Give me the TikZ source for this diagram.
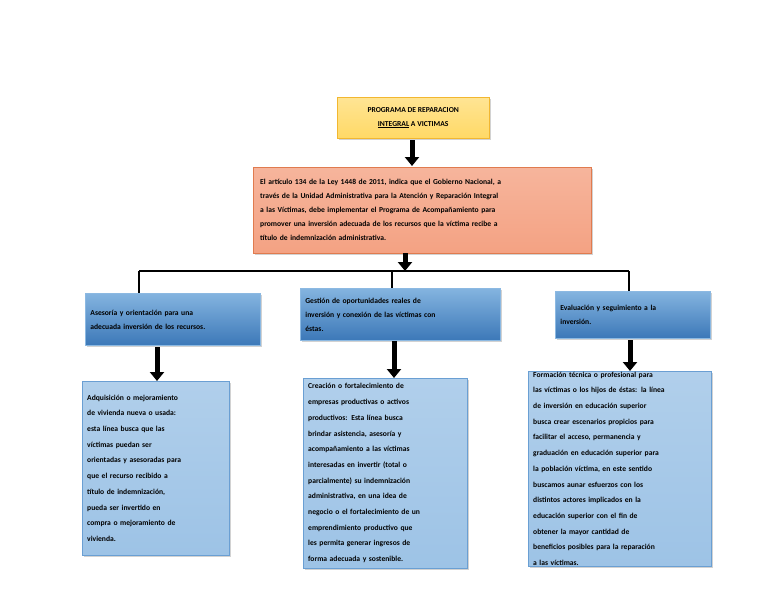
\documentclass[tikz,border=0pt]{standalone}
\usepackage{fontspec}
\setmainfont{Carlito}
\usetikzlibrary{arrows.meta,shadows}
\definecolor{yfill}{HTML}{FFD966}
\definecolor{yedge}{HTML}{F2B730}
\definecolor{ofill}{HTML}{F4A283}
\definecolor{oedge}{HTML}{E07B4F}
\definecolor{bfill}{HTML}{5B9BD5}
\definecolor{bdark}{HTML}{3C78B8}
\definecolor{lfill}{HTML}{9DC3E6}
\definecolor{ledge}{HTML}{6A9FD3}
\begin{document}
\begin{tikzpicture}[x=1pt,y=-1pt,
  box/.style={draw,anchor=north west,inner sep=0pt,align=left,font=\bfseries\fontsize{7.6}{14}\selectfont,drop shadow={opacity=0.35,shadow xshift=2pt,shadow yshift=-2pt}},
  ttl/.style={box,top color=yfill!70!white,bottom color=yfill,draw=yedge,align=center},
  org/.style={box,top color=ofill!80!white,bottom color=ofill,draw=oedge},
  blu/.style={box,top color=bfill!75!white,bottom color=bdark,draw=bfill!70!white,line width=0.8pt},
  lb/.style={box,top color=lfill!80!white,bottom color=lfill,draw=ledge,font=\bfseries\fontsize{7.6}{15.7}\selectfont},
  arr/.style={line width=5pt,-{Triangle[width=14pt,length=9pt]}},
  ln/.style={line width=1.6pt}]
\useasboundingbox[fill=white] (0,0) rectangle (768,594);
\node[ttl,minimum width=152pt,minimum height=41pt] (t) at (337,97) {PROGRAMA DE REPARACION\\\underline{INTEGRAL} A VICTIMAS};
\node[org,minimum width=338pt,minimum height=86pt,text width=324pt] (o) at (253,167) {El artículo 134 de la Ley 1448 de 2011, indica que el Gobierno Nacional, a\\través de la Unidad Administrativa para la Atención y Reparación Integral\\a las Víctimas, debe implementar el Programa de Acompañamiento para\\promover una inversión adecuada de los recursos que la víctima recibe a\\título de indemnización administrativa.};
\coordinate (hl) at (139,271);
\coordinate (hr) at (629,271);
\coordinate (hm) at (405,271);
\coordinate (hc) at (392,271);
\coordinate (a0) at (412,140);
\coordinate (a0e) at (412,166);
\draw[arr] (a0) -- (a0e);
\draw[arr] (o.south -| hm) -- (hm);
\draw[ln] (hl) -- (hr);
\node[blu,minimum width=175pt,minimum height=52pt,text width=165pt] (b1) at (85,293) {Asesoría y orientación para una\\adecuada inversión de los recursos.};
\node[blu,minimum width=200pt,minimum height=52pt,text width=190pt] (b2) at (300,288) {Gestión de oportunidades reales de\\inversión y conexión de las víctimas con\\éstas.};
\node[blu,minimum width=155pt,minimum height=47pt,text width=145pt] (b3) at (555,291) {Evaluación y seguimiento a la\\inversión.};
\draw[ln] (hl) -- (hl |- b1.north);
\draw[ln] (hc) -- (hc |- b2.north);
\draw[ln] (hr) -- (hr |- b3.north);
\node[lb,minimum width=147pt,minimum height=174pt,text width=137pt] (c1) at (82,381) {Adquisición o mejoramiento\\de vivienda nueva o usada:\\esta línea busca que las\\víctimas puedan ser\\orientadas y asesoradas para\\que el recurso recibido a\\título de indemnización,\\pueda ser invertido en\\compra o mejoramiento de\\vivienda.\\[28pt]};
\node[lb,minimum width=164pt,minimum height=190pt,text width=154pt] (c2) at (303,378) {Creación o fortalecimiento de\\empresas productivas o activos\\productivos: Esta línea busca\\brindar asistencia, asesoría y\\acompañamiento a las víctimas\\interesadas en invertir (total o\\parcialmente) su indemnización\\administrativa, en una idea de\\negocio o el fortalecimiento de un\\emprendimiento productivo que\\les permita generar ingresos de\\forma adecuada y sostenible.};
\node[lb,minimum width=183pt,minimum height=195pt,text width=173pt] (c3) at (528,371) {Formación técnica o profesional para\\las víctimas o los hijos de éstas: la línea\\de inversión en educación superior\\busca crear escenarios propicios para\\facilitar el acceso, permanencia y\\graduación en educación superior para\\la población víctima, en este sentido\\buscamos aunar esfuerzos con los\\distintos actores implicados en la\\educación superior con el fin de\\obtener la mayor cantidad de\\beneficios posibles para la reparación\\a las víctimas.};
\coordinate (x1) at (157,347);
\coordinate (x2) at (394,341);
\coordinate (x3) at (630,340);
\draw[arr] (x1) -- (x1 |- c1.north);
\draw[arr] (x2) -- (x2 |- c2.north);
\draw[arr] (x3) -- (x3 |- c3.north);
\end{tikzpicture}
\end{document}
